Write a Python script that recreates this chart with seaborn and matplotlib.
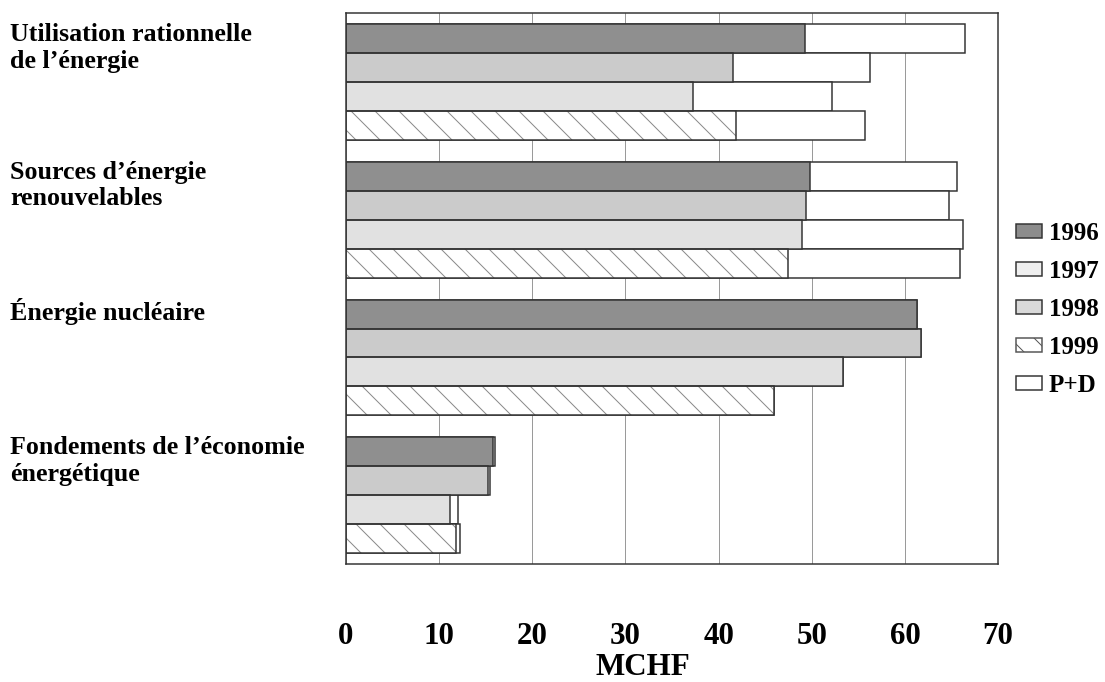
import matplotlib
matplotlib.use('Agg')
import matplotlib.pyplot as plt
import matplotlib.transforms as mtransforms
from matplotlib.patches import Patch
import pandas as pd
import seaborn as sns

# data (MCHF)
categories = ['Utilisation rationnelle\nde l\u2019\u00e9nergie',
              'Sources d\u2019\u00e9nergie\nrenouvelables',
              '\u00c9nergie nucl\u00e9aire',
              'Fondements de l\u2019\u00e9conomie\n\u00e9nerg\u00e9tique']
years = ['1996', '1997', '1998', '1999']
val_1996 = [49.3, 49.8, 61.3, 15.8]
val_1997 = [41.5, 49.4, 61.7, 15.2]
val_1998 = [37.3, 49.0, 53.4, 11.2]
val_1999 = [41.9, 47.4, 46.0, 11.8]
pd_1996 = [17.2, 15.8, 0.0, 0.15]
pd_1997 = [14.8, 15.3, 0.0, 0.3]
pd_1998 = [14.9, 17.2, 0.0, 0.8]
pd_1999 = [13.8, 18.5, 0.0, 0.4]
x_ticks = [0, 10, 20, 30, 40, 50, 60, 70]

bar_colors = ['#8f8f8f', '#cbcbcb', '#e1e1e1', '#ffffff']
legend_colors = ['#8c8c8c', '#efefef', '#d9d9d9', '#ffffff', '#ffffff']
edge = '#333333'

rows = []
for yr, vals, pds in zip(years, [val_1996, val_1997, val_1998, val_1999],
                         [pd_1996, pd_1997, pd_1998, pd_1999]):
    for cat, v, p in zip(categories, vals, pds):
        rows.append({'cat': cat, 'year': yr, 'value': v, 'total': v + p})
df = pd.DataFrame(rows)

sns.set_style('white')
plt.rcParams['font.family'] = ['Liberation Serif', 'DejaVu Serif']
plt.rcParams['font.weight'] = 'bold'
plt.rcParams['text.color'] = 'black'
plt.rcParams['axes.labelcolor'] = 'black'
plt.rcParams['xtick.color'] = 'black'

fig = plt.figure(figsize=(1105 / 72, 682 / 72), dpi=72)
ax = fig.add_axes([0.3131, 0.1730, 0.5901, 0.8075])

# white P+D part = full length bar underneath
sns.barplot(data=df, x='total', y='cat', hue='year', order=categories, hue_order=years,
            orient='h', width=0.84, palette=['white'] * 4, saturation=1,
            edgecolor=edge, linewidth=1.5, legend=False, ax=ax)
# yearly amount on top
sns.barplot(data=df, x='value', y='cat', hue='year', order=categories, hue_order=years,
            orient='h', width=0.84, palette=bar_colors, saturation=1,
            edgecolor='#8a8a8a', linewidth=0, legend=False, ax=ax)
for p in ax.containers[-1]:
    p.set_hatch('\\')
    p.set_edgecolor('#8a8a8a')
# outlines of the yearly parts
sns.barplot(data=df, x='value', y='cat', hue='year', order=categories, hue_order=years,
            orient='h', width=0.84, palette=[edge] * 4, fill=False,
            linewidth=1.5, legend=False, ax=ax)

ax.set_xlim(0, 70)
ax.set_ylim(3.5, -0.5)
ax.set_xticks(x_ticks)
ax.set_xticklabels([str(t) for t in x_ticks], fontsize=31, fontweight='bold', color='black')
ax.tick_params(axis='x', length=0, pad=58)
ax.set_yticks([])
ax.set_ylabel('')
ax.set_xlabel('MCHF', fontsize=31, fontweight='bold', labelpad=2, x=0.455, color='black')
ax.grid(axis='x', color='#9a9a9a', linewidth=1)
ax.set_axisbelow(True)
for s in ax.spines.values():
    s.set_visible(True)
    s.set_color(edge)
    s.set_linewidth(1.5)

trans = mtransforms.blended_transform_factory(fig.transFigure, ax.transData)
for i, cat in enumerate(categories):
    ax.text(10 / 1105, i - 0.43, cat, transform=trans, ha='left', va='top',
            fontsize=26, fontweight='bold', linespacing=1.2, color='black')

handles = []
for lab, col in zip(years + ['P+D'], legend_colors):
    h = Patch(facecolor=col, edgecolor=edge, linewidth=1.5, label=lab)
    if lab == '1999':
        h = Patch(facecolor=col, edgecolor='#555555', linewidth=1.5, hatch='\\', label=lab)
    handles.append(h)
fig.legend(handles=handles, loc='upper left', bbox_to_anchor=(1016 / 1105, 1 - 222 / 682),
           frameon=False, prop={'weight': 'bold', 'size': 25},
           handlelength=1.04, handleheight=0.52, handletextpad=0.28,
           labelspacing=0.6, borderpad=0, borderaxespad=0, labelcolor='black')

fig.savefig('out.png', dpi=72)
